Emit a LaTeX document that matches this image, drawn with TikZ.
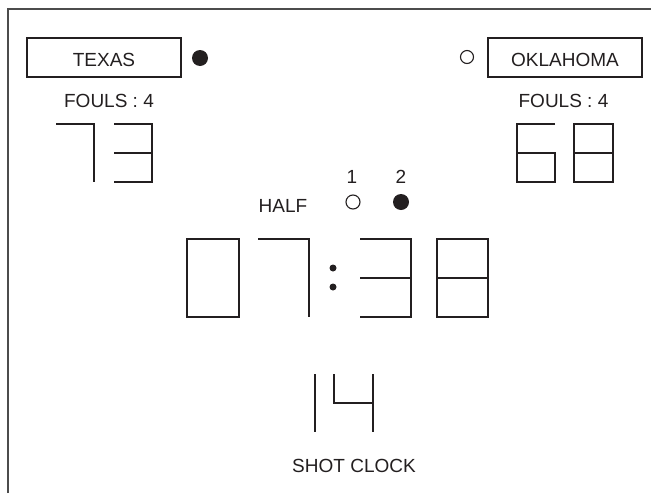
\documentclass[tikz,border=0pt]{standalone}
\usepackage{fontspec}
\setmainfont{Liberation Sans}
\definecolor{ink}{HTML}{231F20}
\begin{document}
\begin{tikzpicture}[x=1pt,y=-1pt,
  lbl/.style={font=\fontsize{19}{19}\selectfont, text=ink, inner sep=0pt, anchor=base},
  teambox/.style={draw=ink, line width=1.2pt, minimum width=154pt, minimum height=39pt, inner sep=0pt},
  seg/.style={draw=ink, line width=2pt},
  framel/.style={draw=black!70, line width=2pt},
  ledon/.style={circle, fill=ink, inner sep=0pt, minimum size=16pt},
  ledoff/.style={circle, draw=ink, line width=1.1pt, inner sep=0pt, minimum size=13pt},
  coldot/.style={circle, fill=ink, inner sep=0pt, minimum size=7pt}]
\useasboundingbox (0,0) rectangle (651,493);
\draw[framel] (8,493) -- (8,9) -- (651,9);
% team boxes
\node[teambox] (texbox) at (104,57.5) {};
\node[teambox] (okbox) at (565,57.5) {};
\node[lbl] (texname) at (104,66) {TEXAS};
\node[lbl] (okname) at (565,66) {OKLAHOMA};
\node[ledon] (texposs) at (200,58) {};
\node[ledoff] (okposs) at (467,57) {};
\node[lbl] (texfouls) at (109,107) {FOULS : 4};
\node[lbl] (okfouls) at (563.5,107) {FOULS : 4};
% Texas 73
\draw[seg] (56,124) -- (94,124) -- (94,182);
\draw[seg] (114,124) -- (152,124) -- (152,182) -- (114,182);
\draw[seg] (114,153) -- (152,153);
% Oklahoma 68
\draw[seg] (555,124) -- (517,124) -- (517,182) -- (555,182) -- (555,153) -- (517,153);
\draw[seg] (574,124) rectangle (613,182);
\draw[seg] (574,153) -- (613,153);
% half
\node[lbl] (halflbl) at (283,212) {HALF};
\node[lbl] (h1) at (352,183) {1};
\node[lbl] (h2) at (401,183) {2};
\node[ledoff, minimum size=14pt] (h1led) at (353,202) {};
\node[ledon] (h2led) at (401,202) {};
% game clock 07:38
\draw[seg] (187,239) rectangle (239,317);
\draw[seg] (258,239) -- (309,239) -- (309,317);
\node[coldot] (colA) at (333,268) {};
\node[coldot] (colB) at (333,287) {};
\draw[seg] (360,239) -- (411,239) -- (411,317) -- (360,317);
\draw[seg] (360,278) -- (411,278);
\draw[seg] (437,239) rectangle (488,317);
\draw[seg] (437,278) -- (488,278);
% shot clock 14
\draw[seg] (315,374) -- (315,432);
\draw[seg] (334,374) -- (334,403) -- (373,403);
\draw[seg] (373,374) -- (373,432);
\node[lbl] (shotlbl) at (354,472) {SHOT CLOCK};
\end{tikzpicture}
\end{document}
